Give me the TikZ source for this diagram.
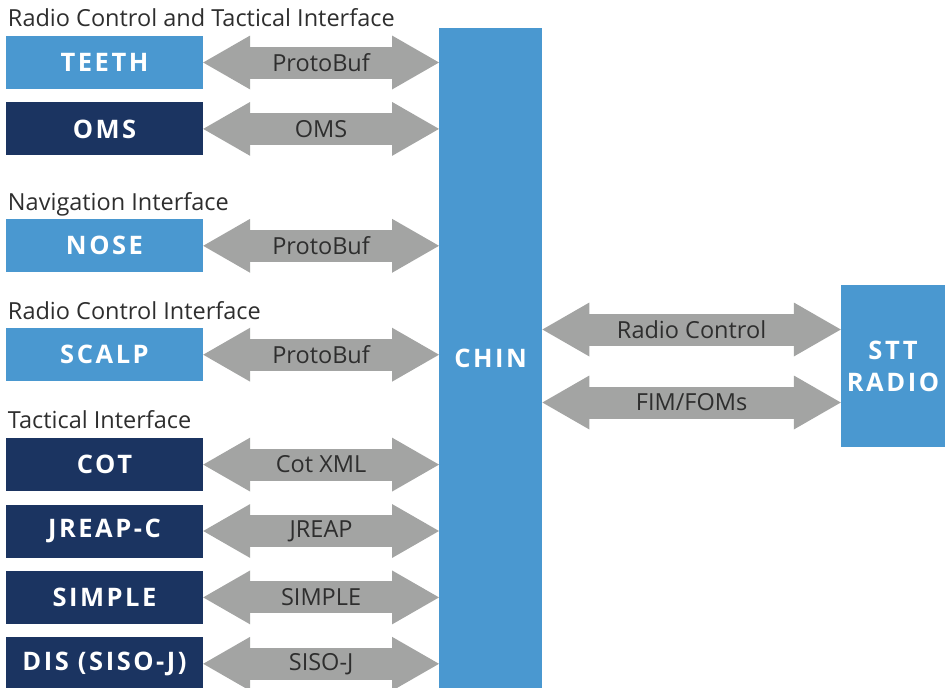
\documentclass[tikz,border=0pt]{standalone}
\usepackage{fontspec}
\setmainfont{Open Sans}
\newfontfamily\boxfont{Open Sans}[LetterSpace=10.0]
\usetikzlibrary{positioning,arrows.meta}
\definecolor{lightblu}{HTML}{4A98D0}
\definecolor{navy}{HTML}{1B3461}
\definecolor{pipe}{HTML}{A3A4A3}
\definecolor{ink}{HTML}{2E2E2E}

\begin{document}
\begin{tikzpicture}[x=1pt,y=1pt]
\tikzset{box/.style={minimum width=197pt,minimum height=53pt,inner sep=0pt,text=white,font=\fontsize{25.5}{32}\boxfont\bfseries}}
\tikzset{lbox/.style={box,fill=lightblu}}
\tikzset{dbox/.style={box,fill=navy}}
\tikzset{hdr/.style={anchor=base west,inner sep=0pt,text=ink,font=\fontsize{23.5}{26}\selectfont}}
\tikzset{tag/.style={inner sep=0pt,text=ink,font=\fontsize{23.5}{26}\selectfont}}
\tikzset{link/.style={line width=32pt,draw=pipe,
  {Triangle[length=47pt,width=54pt,line width=0pt]}-{Triangle[length=47pt,width=54pt,line width=0pt]}}}
\useasboundingbox (0,0) rectangle (945,-688);

% left column
\node[lbox] (teeth) at (104.5,-62.5) {TEETH};
\node[dbox,below=13pt of teeth] (oms) {OMS};
\node[lbox,below=63.5pt of oms] (nose) {NOSE};
\node[lbox,below=55.5pt of nose] (scalp) {SCALP};
\node[dbox,below=56.5pt of scalp] (cot) {COT};
\node[dbox,below=13pt of cot] (jreap) {JREAP-C};
\node[dbox,below=13pt of jreap] (simple) {SIMPLE};
\node[dbox,below=13pt of simple] (dis) {DIS (SISO-J)};

% group headings
\node[hdr] (hdrboth) at ([shift={(2,9)}]teeth.north west) {Radio Control and Tactical Interface};
\node[hdr] (hdrnav) at ([shift={(2,9)}]nose.north west) {Navigation Interface};
\node[hdr] (hdrradio) at ([shift={(2,9)}]scalp.north west) {Radio Control Interface};
\node[hdr] (hdrtac) at ([shift={(2,9)}]cot.north west) {Tactical Interface};

% hub and radio
\node[lbox,minimum width=103pt,minimum height=660pt,anchor=north west] (chin) at (439,-28) {CHIN};
\node[lbox,minimum width=104pt,minimum height=162pt,align=center] (stt) at (893,-366) {STT\\RADIO};

% links to the hub
\foreach \n/\t in {teeth/ProtoBuf,oms/OMS,nose/ProtoBuf,scalp/ProtoBuf,cot/Cot XML,jreap/JREAP,simple/SIMPLE,dis/SISO-J}
  \draw[link] (\n.east) -- (\n.east -| chin.west) node[midway,tag] {\t};

% links to the radio
\coordinate (rc) at ([yshift=36.5pt]stt.west);
\coordinate (fim) at ([yshift=-36.5pt]stt.west);
\draw[link] (rc -| chin.east) -- (rc) node[midway,tag] {Radio Control};
\draw[link] (fim -| chin.east) -- (fim) node[midway,tag] {FIM/FOMs};
\end{tikzpicture}
\end{document}
